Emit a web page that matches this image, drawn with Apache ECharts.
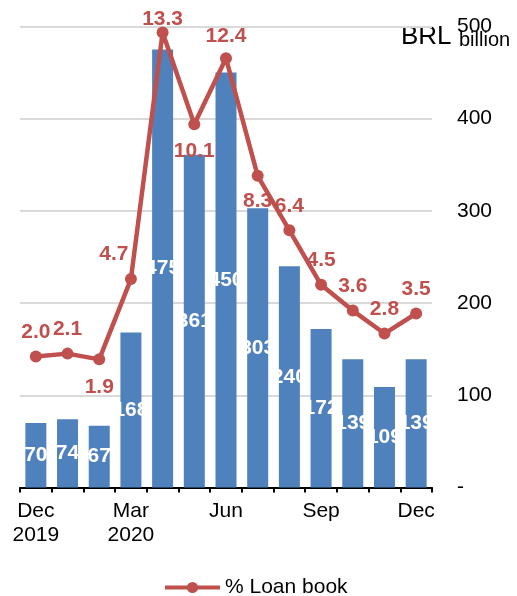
<!DOCTYPE html>
<html>
<head>
<meta charset="utf-8">
<script src="https://cdn.jsdelivr.net/npm/echarts@6/dist/echarts.min.js"></script>
<style>
  html, body { margin: 0; padding: 0; background: #fff; }
  #chart { width: 517px; height: 596px; }
</style>
</head>
<body>
<div id="chart"></div>
<script>
// Monthly categories, Dec 2019 – Dec 2020
const months = ['Dec\n2019', 'Jan', 'Feb', 'Mar\n2020', 'Apr', 'May', 'Jun',
                'Jul', 'Aug', 'Sep', 'Oct', 'Nov', 'Dec'];
// Amount, BRL billion
const amountBRL = [70, 74, 67, 168, 475, 361, 450, 303, 240, 172, 139, 109, 139];
// Share of the loan book, %
const pctLoanBook = [2.0, 2.1, 1.9, 4.7, 13.3, 10.1, 12.4, 8.3, 6.4, 4.5, 3.6, 2.8, 3.5];
// Value-axis ticks
const amountTicks = [0, 100, 200, 300, 400, 500];

const FONT = 'Liberation Sans, Arial, sans-serif';
const BLUE = '#4F81BD';
const RED = '#C0504D';

// Label placement for the percentage line (style only)
const pctLabelStyle = {
  2: { position: 'bottom', distance: 11 },
  3: { position: 'top', distance: 8, offset: [-17, 0] },
  4: { position: 'top', distance: -3 },
  5: { position: 'bottom', distance: 10 },
  6: { position: 'top', distance: 6 },
  7: { position: 'bottom', distance: 9 }
};
const pctData = pctLoanBook.map((v, i) => {
  const item = { value: v };
  if (pctLabelStyle[i]) item.label = pctLabelStyle[i];
  return item;
});

const chart = echarts.init(document.getElementById('chart'), null, { renderer: 'canvas' });

chart.setOption({
  animation: false,
  textStyle: { fontFamily: FONT },
  grid: { left: 20, right: 85, top: 26.5, bottom: 108.5, containLabel: false },
  legend: {
    data: ['% Loan book'],
    left: 163,
    top: 577,
    padding: 0,
    itemWidth: 55,
    itemHeight: 14,
    itemGap: 5,
    lineStyle: { width: 4 },
    textStyle: { fontSize: 21, color: '#000', fontFamily: FONT }
  },
  graphic: [
    { type: 'text', left: 401, top: 24,
      style: { text: 'BRL', font: '26px ' + FONT, fill: '#000' } },
    { type: 'text', left: 459, top: 30,
      style: { text: 'billion', font: '20px ' + FONT, fill: '#000' } }
  ],
  xAxis: {
    type: 'category',
    data: months,
    boundaryGap: true,
    axisLine: { lineStyle: { color: '#000', width: 2 } },
    axisTick: { show: true, length: 5, interval: 0, lineStyle: { color: '#000', width: 2 } },
    axisLabel: {
      interval: 2,
      margin: 11,
      color: '#000',
      fontSize: 21,
      lineHeight: 24.7,
      fontFamily: FONT
    }
  },
  yAxis: [
    {
      type: 'value',
      position: 'right',
      min: amountTicks[0],
      max: amountTicks[amountTicks.length - 1],
      interval: amountTicks[1] - amountTicks[0],
      axisLine: { show: false },
      axisTick: { show: false },
      splitLine: { lineStyle: { color: '#D9D9D9', width: 2 } },
      axisLabel: {
        margin: 25,
        align: 'left',
        color: '#000',
        fontSize: 21,
        fontFamily: FONT,
        formatter: v => (v === 0 ? '-' : String(v))
      }
    },
    {
      type: 'value',
      position: 'right',
      min: -2.569,
      max: 13.508,
      show: false,
      splitLine: { show: false }
    }
  ],
  series: [
    {
      name: 'BRL billion',
      type: 'bar',
      data: amountBRL,
      yAxisIndex: 0,
      barWidth: 21,
      itemStyle: { color: BLUE },
      label: {
        show: true,
        position: 'inside',
        color: '#fff',
        fontSize: 21,
        fontWeight: 'bold',
        fontFamily: FONT
      },
      z: 2
    },
    {
      name: '% Loan book',
      type: 'line',
      data: pctData,
      yAxisIndex: 1,
      symbol: 'circle',
      symbolSize: 12,
      lineStyle: { color: RED, width: 4.5 },
      itemStyle: { color: RED },
      label: {
        show: true,
        position: 'top',
        distance: 8,
        color: RED,
        fontSize: 21,
        fontWeight: 'bold',
        fontFamily: FONT,
        formatter: p => p.value.toFixed(1)
      },
      z: 3
    }
  ]
});
</script>
</body>
</html>
